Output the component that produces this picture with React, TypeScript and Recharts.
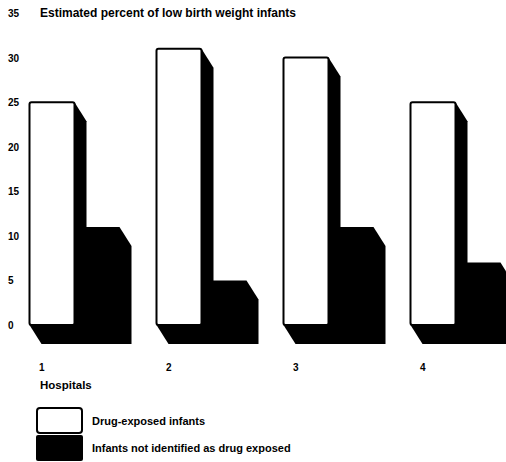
import React from 'react';
import { BarChart, Bar, XAxis, YAxis, Legend, Customized } from 'recharts';

const categories = ['1', '2', '3', '4'];
const drugExposed = [25, 31, 30, 25];
const notIdentified = [11, 5, 11, 7];
const yTicks = [0, 5, 10, 15, 20, 25, 30, 35];
const titleText = 'Estimated percent of low birth weight infants';
const xAxisTitle = 'Hospitals';
const seriesNames = ['Drug-exposed infants', 'Infants not identified as drug exposed'];

const data = categories.map((c, i) => ({
  hospital: c,
  exposed: drugExposed[i],
  notIdentified: notIdentified[i],
}));

const FONT = '"Liberation Sans", Arial, Helvetica, sans-serif';
const DX = 12;
const DY = 19;

const WhiteBar = (props: any) => {
  const { x, y, width, height } = props;
  const pts = `${x + width},${y} ${x + width + DX},${y + DY} ${x + width + DX},${y + height + DY} ${x + DX},${y + height + DY} ${x},${y + height}`;
  return (
    <g>
      <polygon points={pts} fill="#000" />
      <rect x={x} y={y} width={width} height={height} rx={2} fill="#fff" stroke="#000" strokeWidth={2} />
    </g>
  );
};

const BlackBar = (props: any) => {
  const { x, y, width, height } = props;
  const pts = `${x},${y} ${x + width},${y} ${x + width + DX},${y + DY} ${x + width + DX},${y + height + DY} ${x},${y + height + DY}`;
  return <polygon points={pts} fill="#000" />;
};

const YTick = (props: any) => {
  const { y, payload } = props;
  return (
    <text x={8} y={y} dy={4} fontSize={10} fontWeight="bold" fontFamily={FONT} fill="#000" textAnchor="start">
      {payload.value}
    </text>
  );
};

const XTick = (props: any) => {
  const { x, y, payload } = props;
  return (
    <text x={x - 35} y={y + 38} fontSize={10} fontWeight="bold" fontFamily={FONT} fill="#000" textAnchor="start">
      {payload.value}
    </text>
  );
};

const Titles = () => (
  <g>
    <text x={40} y={17} fontSize={12} fontWeight="bold" fontFamily={FONT} fill="#000">
      {titleText}
    </text>
    <text x={40} y={389} fontSize={11.5} fontWeight="bold" fontFamily={FONT} fill="#000">
      {xAxisTitle}
    </text>
  </g>
);

const LegendContent = () => (
  <div style={{ fontFamily: FONT, fontSize: 11, fontWeight: 'bold', color: '#000' }}>
    <div style={{ display: 'flex', alignItems: 'center', height: 27 }}>
      <svg width={48} height={27}>
        <rect x={1} y={1} width={45} height={25} rx={3} fill="#fff" stroke="#000" strokeWidth={2} />
      </svg>
      <span style={{ marginLeft: 8 }}>{seriesNames[0]}</span>
    </div>
    <div style={{ display: 'flex', alignItems: 'center', height: 27 }}>
      <svg width={48} height={27}>
        <rect x={0} y={1} width={47} height={26} rx={2} fill="#000" />
      </svg>
      <span style={{ marginLeft: 8 }}>{seriesNames[1]}</span>
    </div>
  </div>
);

export default function App() {
  return (
    <div style={{ position: 'absolute', left: 0, top: 0, width: 506, height: 462, overflow: 'hidden', background: '#fff' }}>
      <BarChart
        width={530}
        height={462}
        data={data}
        margin={{ top: 13, right: 11.5, left: 0, bottom: 107 }}
        barGap={0}
        barSize={45}
      >
        <XAxis dataKey="hospital" axisLine={false} tickLine={false} height={30} tick={<XTick />} interval={0} />
        <YAxis
          domain={[0, 35]}
          ticks={yTicks}
          width={10.5}
          axisLine={false}
          tickLine={false}
          tick={<YTick />}
          interval={0}
        />
        <Bar dataKey="exposed" name={seriesNames[0]} shape={<WhiteBar />} isAnimationActive={false} />
        <Bar dataKey="notIdentified" name={seriesNames[1]} shape={<BlackBar />} isAnimationActive={false} />
        <Legend
          layout="vertical"
          align="center"
          verticalAlign="middle"
          content={<LegendContent />}
          wrapperStyle={{ left: 36, top: 407, width: 340, right: 'auto', bottom: 'auto' }}
        />
        <Customized component={Titles} />
      </BarChart>
    </div>
  );
}
